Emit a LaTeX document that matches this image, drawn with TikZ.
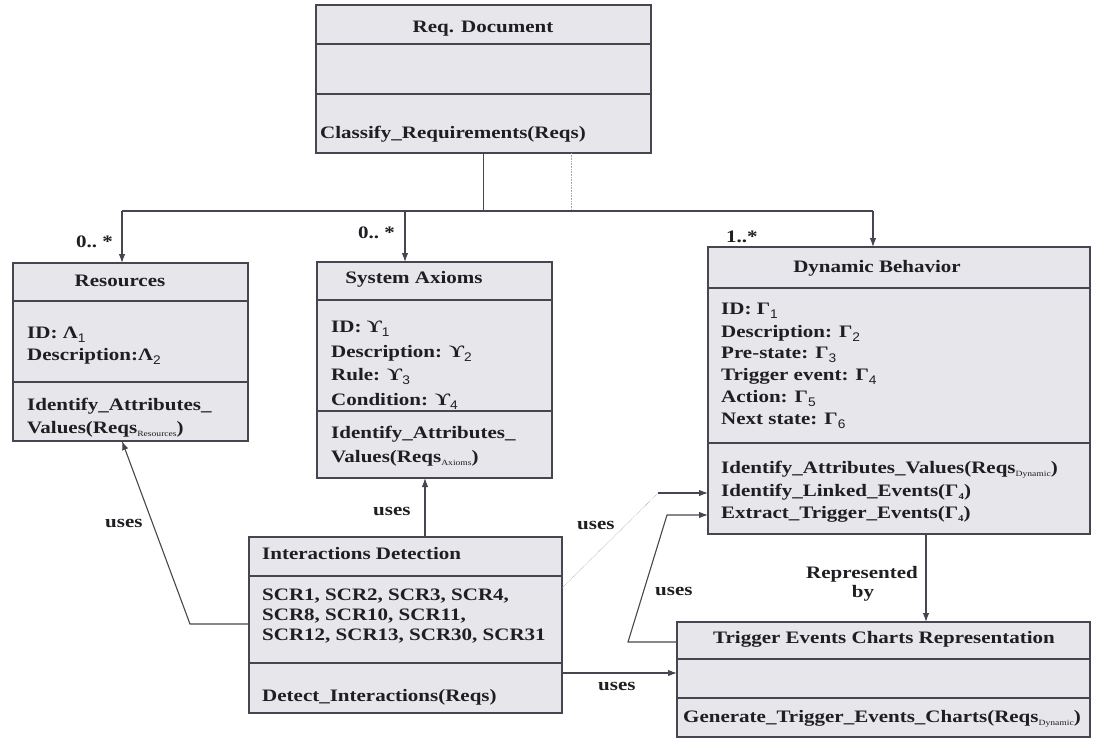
\documentclass[tikz,border=0pt]{standalone}
\usepackage{fontspec}
\setmainfont{Liberation Serif}[FakeStretch=1.2]
\newfontfamily\subsf{Liberation Sans}[FakeStretch=1.1]
\usetikzlibrary{arrows.meta}
\definecolor{ink}{RGB}{30,30,35}
\definecolor{edge}{RGB}{70,70,80}
\definecolor{boxfill}{RGB}{230,230,235}
% subscripts: digits, words, small digits in method signatures
\newcommand\dsub[1]{\raisebox{-4.5pt}{\fontsize{12.5}{12}\selectfont\subsf\mdseries #1}}
\newcommand\wsub[1]{\raisebox{-3.5pt}{\fontsize{8}{8}\selectfont\mdseries #1}}
\newcommand\gsub[1]{\raisebox{-3pt}{\fontsize{9}{9}\selectfont #1}}
% class box from its corner coordinates
\newcommand\classbox[5]{\node[box, minimum width={#4-#2}, minimum height={#5-#3}] (#1) at ({(#2+#4)/2},{(#3+#5)/2}) {};}
\newcommand\compartment[2]{\draw[divider] (#1.west |- 0,#2) -- (#1.east |- 0,#2);}
\begin{document}
\begin{tikzpicture}[x=1pt,y=-1pt,
  box/.style={draw=edge, fill=boxfill, line width=1.2pt, inner sep=0, outer sep=0},
  divider/.style={draw=edge, line width=1.1pt},
  txt/.style={inner sep=0, text=ink, font=\fontsize{17.5}{21}\selectfont\bfseries},
  wire/.style={draw=edge, line width=1.1pt},
  arr/.style={wire, -{Latex[length=9pt,width=6.5pt]}},
  faint/.style={draw=gray!70, line width=0.6pt, densely dotted}]

\useasboundingbox (0,0) rectangle (1093,739);

% ---- classes
\classbox{req}{316}{5}{651}{153}
\compartment{req}{44}\compartment{req}{94}
\classbox{res}{13}{263}{248}{441}
\compartment{res}{301}\compartment{res}{382}
\classbox{ax}{317}{262}{552}{478}
\compartment{ax}{300}\compartment{ax}{411}
\classbox{dyn}{708}{247}{1090}{534}
\compartment{dyn}{288}\compartment{dyn}{443}
\classbox{ide}{249}{537}{562}{713}
\compartment{ide}{576}\compartment{ide}{663}
\classbox{tec}{677}{622}{1090}{737}
\compartment{tec}{659}\compartment{tec}{698}

% Req. Document
\node[txt, anchor=base] (reqT) at (483,32) {Req. Document};
\node[txt, anchor=base west] (reqM) at (320,138) {Classify\_Requirements(Reqs)};

% Resources
\node[txt, anchor=base] (resT) at (120,286) {Resources};
\node[txt, anchor=base west] (resA1) at (27,338) {ID: Λ\dsub{1}};
\node[txt, anchor=base west] (resA2) at (27,360) {Description:Λ\dsub{2}};
\node[txt, anchor=base west] (resM1) at (27,410) {Identify\_Attributes\_};
\node[txt, anchor=base west] (resM2) at (27,433) {Values(Reqs\wsub{Resources})};

% System Axioms
\node[txt, anchor=base] (axT) at (414,283) {System Axioms};
\node[txt, anchor=base west] (axA1) at (331,332) {ID: ϒ\dsub{1}};
\node[txt, anchor=base west] (axA2) at (331,357) {Description: ϒ\dsub{2}};
\node[txt, anchor=base west] (axA3) at (331,380) {Rule: ϒ\dsub{3}};
\node[txt, anchor=base west] (axA4) at (331,405) {Condition: ϒ\dsub{4}};
\node[txt, anchor=base west] (axM1) at (331,438) {Identify\_Attributes\_};
\node[txt, anchor=base west] (axM2) at (331,462) {Values(Reqs\wsub{Axioms})};

% Dynamic Behavior
\node[txt, anchor=base] (dynT) at (877,272) {Dynamic Behavior};
\node[txt, anchor=base west] (dynA1) at (721,314) {ID: Γ\dsub{1}};
\node[txt, anchor=base west] (dynA2) at (721,337) {Description: Γ\dsub{2}};
\node[txt, anchor=base west] (dynA3) at (721,358) {Pre-state: Γ\dsub{3}};
\node[txt, anchor=base west] (dynA4) at (721,380) {Trigger event: Γ\dsub{4}};
\node[txt, anchor=base west] (dynA5) at (721,402) {Action: Γ\dsub{5}};
\node[txt, anchor=base west] (dynA6) at (721,424) {Next state: Γ\dsub{6}};
\node[txt, anchor=base west] (dynM1) at (721,473) {Identify\_Attributes\_Values(Reqs\wsub{Dynamic})};
\node[txt, anchor=base west] (dynM2) at (721,496) {Identify\_Linked\_Events(Γ\gsub{4})};
\node[txt, anchor=base west] (dynM3) at (721,518) {Extract\_Trigger\_Events(Γ\gsub{4})};

% Interactions Detection
\node[txt, anchor=base west] (ideT) at (262,559) {Interactions Detection};
\node[txt, anchor=base west] (ideA1) at (262,600) {SCR1, SCR2, SCR3, SCR4,};
\node[txt, anchor=base west] (ideA2) at (262,620) {SCR8, SCR10, SCR11,};
\node[txt, anchor=base west] (ideA3) at (262,640) {SCR12, SCR13, SCR30, SCR31};
\node[txt, anchor=base west] (ideM) at (262,701) {Detect\_Interactions(Reqs)};

% Trigger Events Charts Representation
\node[txt, anchor=base] (tecT) at (884,643) {Trigger Events Charts Representation};
\node[txt, anchor=base west] (tecM) at (683,722) {Generate\_Trigger\_Events\_Charts(Reqs\wsub{Dynamic})};

% ---- classification tree
\coordinate (busL) at (122,211);
\coordinate (busA) at (405,211);
\coordinate (busR) at (873,211);
\draw[wire] (req.south) -- (req.south |- busL);
\draw[faint] (req.south -| 571,0) -- (busL -| 571,0);
\draw[wire] (busL) -- (busR);
\draw[arr] (busL) -- (busL |- res.north);
\draw[arr] (busA) -- (busA |- ax.north);
\draw[arr] (busR) -- (busR |- dyn.north);
\node[txt, anchor=base west] (mRes) at (76,247) {0..\ *};
\node[txt, anchor=base west] (mAx) at (358,238) {0..\ *};
\node[txt, anchor=base west] (mDyn) at (726,242) {1..*};

% ---- usage links
\coordinate (axU) at (425,537);
\draw[arr] (ide.north -| axU) -- (ax.south -| axU);
\node[txt, anchor=base west] (uAx) at (373,515) {uses};

\coordinate (lk) at (190,624);
\draw[arr] (ide.west |- lk) -- (lk) -- (res.south -| busL);
\node[txt, anchor=base west] (uRes) at (105,527) {uses};

\coordinate (dk) at (658,493);
\draw[faint] (ide.east |- 0,588) -- (dk);
\draw[arr] (dk) -- (dyn.west |- dk);
\node[txt, anchor=base west] (uDyn) at (577,529) {uses};

\coordinate (tk1) at (628,642);
\coordinate (tk2) at (667,515);
\draw[arr] (tec.west |- tk1) -- (tk1) -- (tk2) -- (dyn.west |- tk2);
\node[txt, anchor=base west] (uTec) at (655,595) {uses};

\draw[arr] (ide.east |- 0,673) -- (tec.west |- 0,673);
\node[txt, anchor=base west] (uGen) at (598,690) {uses};

\coordinate (rp) at (926,0);
\draw[arr] (dyn.south -| rp) -- (tec.north -| rp);
\node[txt, anchor=base] (rep1) at (862,578) {Represented};
\node[txt, anchor=base] (rep2) at (863,597) {by};

\end{tikzpicture}
\end{document}
